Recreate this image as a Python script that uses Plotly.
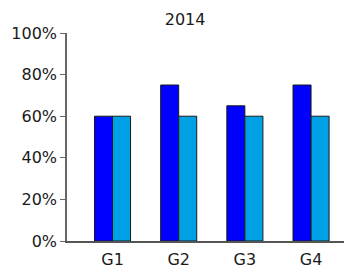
import plotly.graph_objects as go

categories = ["G1", "G2", "G3", "G4"]
series_a = [0.60, 0.75, 0.65, 0.75]
series_b = [0.60, 0.60, 0.60, 0.60]
title_text = "2014"

fig = go.Figure()
fig.add_trace(go.Bar(x=categories, y=series_a, marker=dict(color="#0000ff", line=dict(color="#1a1a1a", width=1))))
fig.add_trace(go.Bar(x=categories, y=series_b, marker=dict(color="#00a0e4", line=dict(color="#1a1a1a", width=1))))

fig.update_layout(
    width=344, height=273,
    margin=dict(l=67, r=0, t=33, b=32),
    barmode="group", bargap=0.455, bargroupgap=0,
    showlegend=False,
    paper_bgcolor="white", plot_bgcolor="white",
    font=dict(family="DejaVu Sans", size=16, color="#1a1a1a"),
    title=dict(text=title_text, x=0.538, xanchor="center", y=0.928, yanchor="middle",
               font=dict(family="DejaVu Sans", size=16, color="#1a1a1a")),
)
fig.update_xaxes(range=[-0.688, 3.498], showline=True, linecolor="#555555", linewidth=1.5,
                 ticks="", ticklabelstandoff=3, showgrid=False, zeroline=False, automargin=False)
fig.update_yaxes(range=[0, 1], tickformat=".0%", dtick=0.2, showline=True, linecolor="#666666",
                 linewidth=1.5, ticks="outside", ticklen=5, tickcolor="#666666", showgrid=False,
                 zeroline=False, automargin=False)

fig.write_html("out.html", config={"displayModeBar": False})

with open("out.html", "r", encoding="utf-8") as f:
    html = f.read()
html = html.replace("<body>", '<body style="margin:0;padding:0;overflow:hidden">', 1)
with open("out.html", "w", encoding="utf-8") as f:
    f.write(html)
